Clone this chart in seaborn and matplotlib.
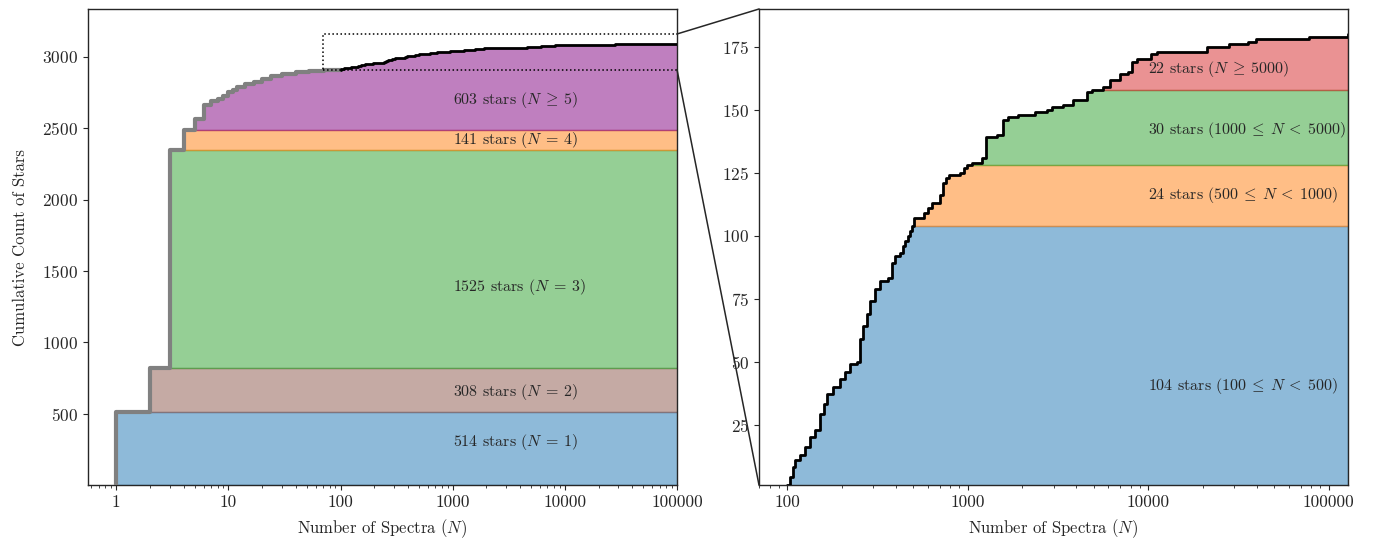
import numpy as np
import pandas as pd
import matplotlib
matplotlib.use("Agg")
import matplotlib.pyplot as plt
import seaborn as sns
from matplotlib.patches import Rectangle, ConnectionPatch
from matplotlib.ticker import FuncFormatter, FixedLocator

sns.set_style("ticks")
plt.rcParams.update({
    "font.family": "serif",
    "font.serif": ["cmr10"],
    "mathtext.fontset": "cm",
    "axes.formatter.use_mathtext": True,
    "font.size": 11.5,
    "axes.labelsize": 12,
    "xtick.labelsize": 12.5,
    "ytick.labelsize": 12.5,
    "axes.edgecolor": "0.15",
    "xtick.color": "0.15",
    "ytick.color": "0.15",
})

# Stars observed exactly N = 1..4 times
single_N = [1, 2, 3, 4]
single_counts = [514, 308, 1525, 141]

# Cumulative star count for 5 <= N < 100 (step breakpoints)
mid_N = [5, 6, 7, 8, 9, 10, 11, 12, 14, 17, 20, 24, 30, 40, 52, 71, 90]
mid_cum = [2565, 2660, 2688, 2705, 2728, 2751, 2765, 2790, 2810, 2827, 2844,
           2866, 2880, 2891, 2903, 2908, 2911]

# Cumulative count among stars with N >= 100 (step breakpoints)
high_N = [100, 103, 107, 110, 118, 125, 134, 142, 152, 160, 166, 180, 196, 209,
          223, 242, 253, 264, 275, 287, 307, 327, 363, 379, 395, 420, 435, 449,
          465, 478, 490,
          505, 575, 600, 632, 702, 731, 760, 790, 906, 950, 986,
          1050, 1192, 1270, 1446, 1573, 1674, 1906, 2358, 2743, 2922, 3388,
          3853, 4561, 4900,
          5643, 6177, 6990, 7757, 8092, 8645, 10300, 11200, 21200, 28200,
          35700, 39500, 77400, 128000]
high_cum = [1, 4, 8, 11, 13, 16, 20, 23, 29, 33, 37, 40, 43, 46,
            49, 50, 59, 64, 69, 74, 79, 82, 83, 89, 92, 93, 96, 98,
            100, 102, 104,
            107, 109, 111, 113, 116, 121, 123, 124, 125, 127, 128,
            129, 131, 139, 140, 146, 147, 148, 149, 150, 151, 152,
            154, 157, 158,
            159, 162, 164, 165, 169, 170, 172, 173, 175, 176,
            177, 178, 179, 180]

# Bins for the N >= 100 population
high_edges = [100, 500, 1000, 5000]
high_counts = [104, 24, 30, 22]

left_colors = ["tab:blue", "tab:brown", "tab:green", "tab:orange", "purple"]
right_colors = ["tab:blue", "tab:orange", "tab:green", "tab:red"]

# ---- derived curves ----
base_100 = mid_cum[-1]
single_cum = [int(v) for v in np.cumsum(single_counts)]
total = base_100 + high_cum[-1]

low_df = pd.DataFrame({"N": [1] + single_N + mid_N + [100],
                       "cum": [0] + single_cum + mid_cum + [base_100]})
high_df = pd.DataFrame({"N": [100] + high_N,
                        "cum": [base_100] + [base_100 + c for c in high_cum]})
hi_only = pd.DataFrame({"N": high_N, "cum": high_cum})

full_N = np.array(single_N + mid_N + high_N, dtype=float)
full_cum = np.array(single_cum + mid_cum + [base_100 + c for c in high_cum], dtype=float)

fig = plt.figure(figsize=(13.79, 5.45), dpi=100)
W, H = 1379, 545
ax1 = fig.add_axes([88 / W, 60 / H, 589 / W, 476 / H])
ax2 = fig.add_axes([759 / W, 60 / H, 589 / W, 476 / H])

REL = "\\:"

# ---- left: full population ----
left_bounds = [0] + single_cum + [total]
left_labels = [f"{c} stars ($N{REL}={REL}{n}$)" for n, c in zip(single_N, single_counts)]
left_labels.append(f"{total - single_cum[-1]} stars ($N{REL}\\geq{REL}5$)")
left_label_y = [300, 650, 1390, 2420, 2700]
for i, col in enumerate(left_colors):
    lo, hi = left_bounds[i], left_bounds[i + 1]
    ax1.fill_between(full_N, lo, np.clip(full_cum, lo, hi), where=full_cum > lo,
                     step="post", color=col, alpha=0.5, lw=1, zorder=1)
    ax1.text(1000, left_label_y[i], left_labels[i], ha="left", va="center",
             zorder=5)

sns.lineplot(data=low_df, x="N", y="cum", ax=ax1, estimator=None, sort=False,
             drawstyle="steps-post", color="gray", lw=3, zorder=3)
sns.lineplot(data=high_df, x="N", y="cum", ax=ax1, estimator=None, sort=False,
             drawstyle="steps-post", color="black", lw=2, zorder=4)

ax1.set_xscale("log")
ax1.set_xlim(0.56, 1e5)
ax1.set_ylim(1, 3335)
ax1.yaxis.set_major_locator(FixedLocator([500, 1000, 1500, 2000, 2500, 3000]))
ax1.xaxis.set_major_formatter(FuncFormatter(lambda v, p: f"{int(round(v))}"))
ax1.set_xlabel("Number of Spectra ($N$)", labelpad=5)
ax1.set_ylabel("Cumulative Count of Stars", labelpad=10)

# Zoom region box
x_lo, x_hi = 69.7, 128000
y_lo, y_hi = base_100, 3160
ax1.add_patch(Rectangle((x_lo, y_lo), x_hi - x_lo, y_hi - y_lo, fill=False,
                        ls=":", lw=1.1, ec="black", zorder=6))

# ---- right: stars with N >= 100 ----
hi_N = np.array(high_N, dtype=float)
hi_c = np.array(high_cum, dtype=float)
right_bounds = [0] + [int(v) for v in np.cumsum(high_counts)]
right_labels = []
for i, c in enumerate(high_counts):
    if i < len(high_counts) - 1:
        right_labels.append(
            f"{c} stars (${high_edges[i]}{REL}\\leq{REL}N{REL}<{REL}{high_edges[i + 1]}$)")
    else:
        right_labels.append(f"{c} stars ($N{REL}\\geq{REL}{high_edges[i]}$)")
right_label_y = [40.5, 116, 142, 166]
for i, col in enumerate(right_colors):
    lo, hi = right_bounds[i], right_bounds[i + 1]
    ax2.fill_between(hi_N, lo, np.clip(hi_c, lo, hi), where=hi_c > lo,
                     step="post", color=col, alpha=0.5, lw=1, zorder=1)
    ax2.text(1e4, right_label_y[i], right_labels[i], ha="left", va="center",
             zorder=5)

sns.lineplot(data=hi_only, x="N", y="cum", ax=ax2, estimator=None, sort=False,
             drawstyle="steps-post", color="black", lw=2, zorder=4)

ax2.set_xscale("log")
ax2.set_xlim(x_lo, x_hi)
ax2.set_ylim(1, 190)
ax2.yaxis.set_major_locator(FixedLocator([25, 50, 75, 100, 125, 150, 175]))
ax2.xaxis.set_major_formatter(FuncFormatter(lambda v, p: f"{int(round(v))}"))
ax2.set_xlabel("Number of Spectra ($N$)", labelpad=5)
ax2.set_ylabel("")

for ax in (ax1, ax2):
    for s in ax.spines.values():
        s.set_visible(True)
        s.set_linewidth(1.0)

# Connectors from the box to the zoomed panel
for yv, yb in ((y_hi, 1), (y_lo, 0)):
    con = ConnectionPatch(xyA=(1e5, yv), coordsA=ax1.transData,
                          xyB=(0, yb), coordsB=ax2.transAxes,
                          color="0.15", lw=1.1)
    fig.add_artist(con)

fig.savefig("out.png", dpi=100)
